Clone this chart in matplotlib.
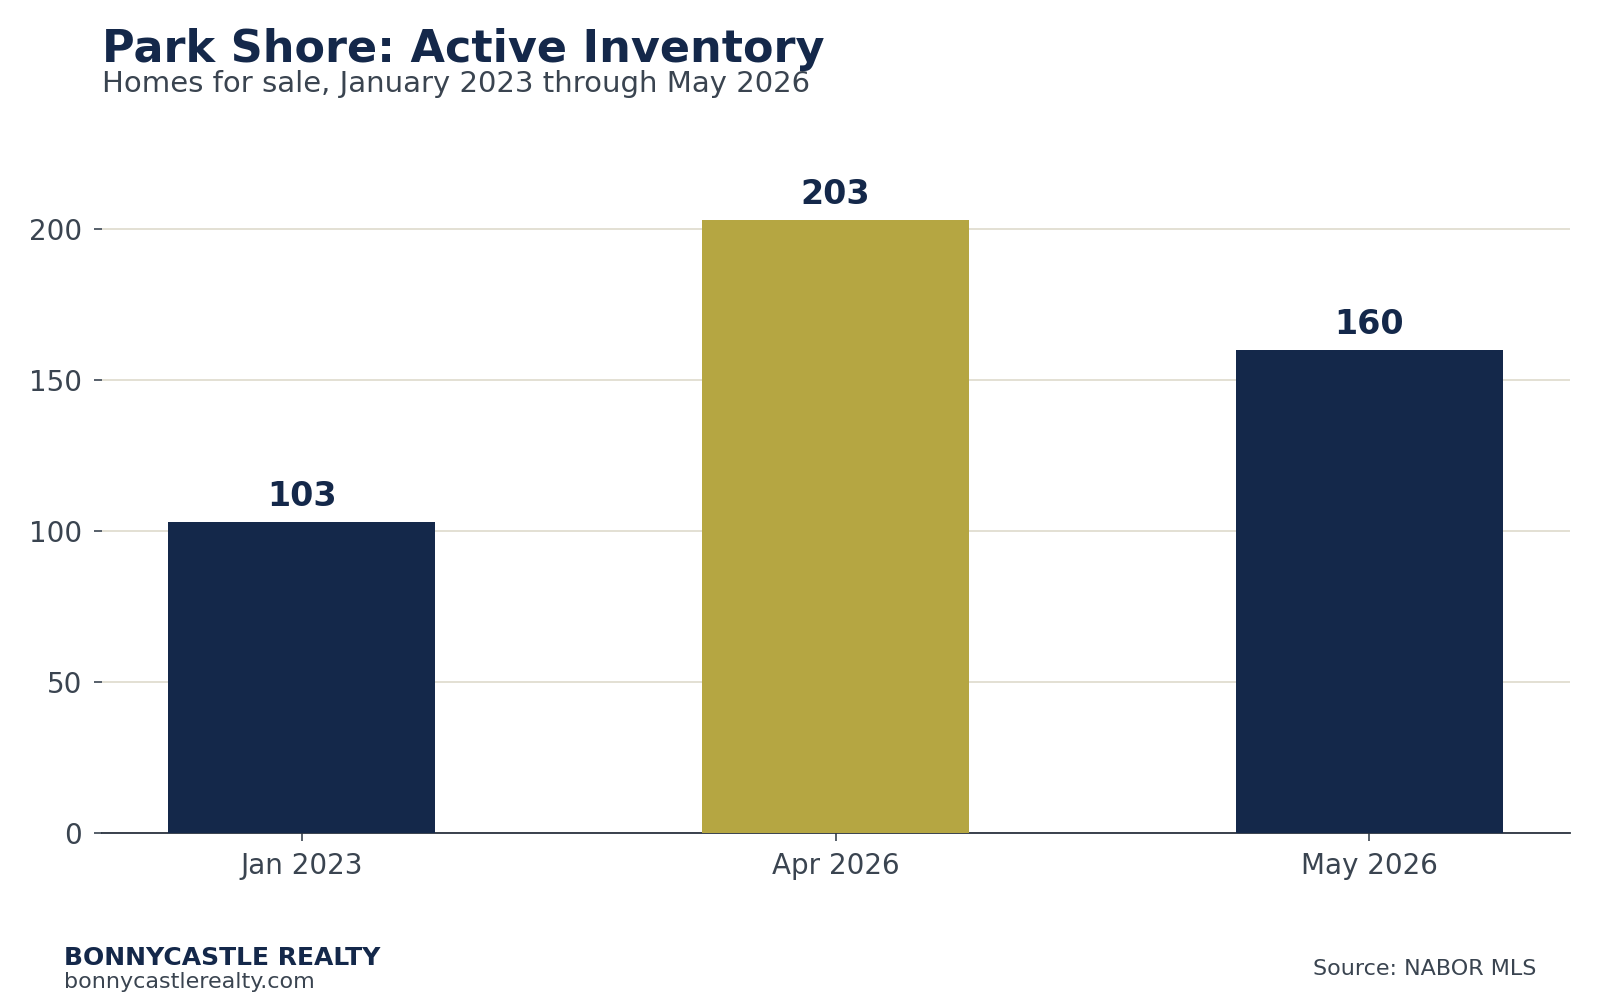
import matplotlib
matplotlib.use("Agg")
import matplotlib.pyplot as plt

# chart data
months = ['Jan 2023', 'Apr 2026', 'May 2026']
active = [103, 203, 160]
bar_colors = ['#14284a', '#b5a642', '#14284a']

navy = '#14284a'
grey = '#3a4450'

fig = plt.figure(figsize=(16, 10), dpi=100)
ax = fig.add_axes([0.0635, 0.167, 0.9175, 0.673])

bars = ax.bar(months, active, width=0.5, color=bar_colors, zorder=3)
for b, v in zip(bars, active):
    ax.annotate(str(v), (b.get_x() + b.get_width() / 2, v),
                xytext=(0, 6.5), textcoords='offset points',
                ha='center', va='bottom', fontsize=24, fontweight='bold', color=navy)

ax.set_ylim(0, 223)
ax.set_yticks([0, 50, 100, 150, 200])
ax.grid(axis='y', color='#e0ddd0', linewidth=1.3, zorder=0)
for s in ['top', 'right', 'left']:
    ax.spines[s].set_visible(False)
ax.spines['bottom'].set_color('#2a3340')
ax.spines['bottom'].set_linewidth(1.3)
ax.tick_params(axis='both', labelsize=20, colors=grey, length=6, width=1.2, pad=8)
ax.tick_params(axis='x', pad=8)

fig.text(0.064, 0.938, 'Park Shore: Active Inventory', fontsize=32, fontweight='bold',
         color=navy, ha='left', va='baseline')
fig.text(0.064, 0.908, 'Homes for sale, January 2023 through May 2026', fontsize=21,
         color=grey, ha='left', va='baseline')

fig.text(0.04, 0.035, 'BONNYCASTLE REALTY', fontsize=18, fontweight='bold',
         color=navy, ha='left', va='baseline')
fig.text(0.04, 0.012, 'bonnycastlerealty.com', fontsize=16,
         color=grey, ha='left', va='baseline')
fig.text(0.96, 0.025, 'Source: NABOR MLS', fontsize=16,
         color=grey, ha='right', va='baseline')

fig.savefig('out.png', dpi=100)
